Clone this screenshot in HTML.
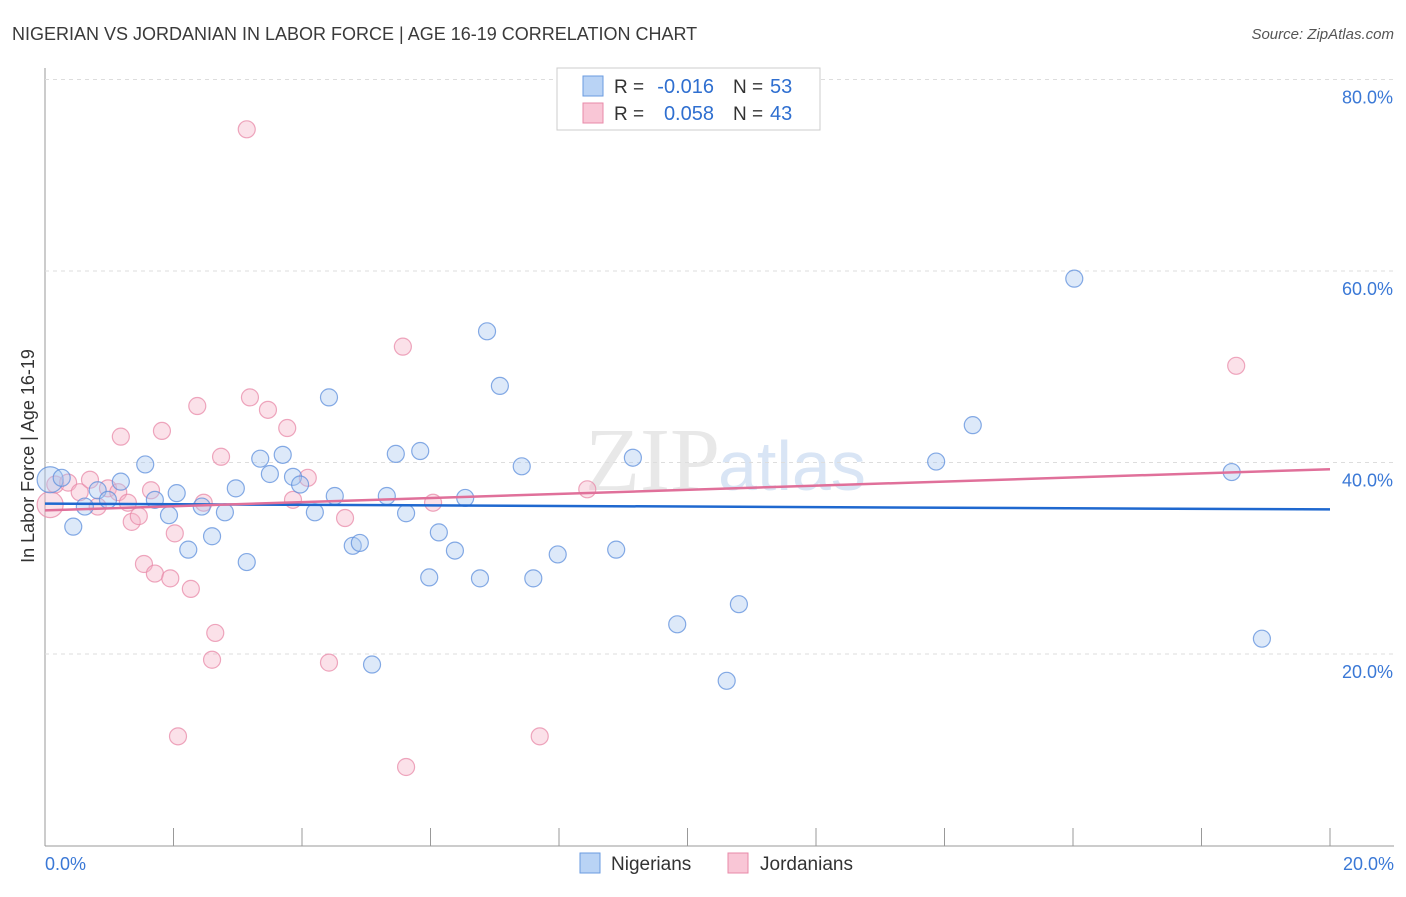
<!DOCTYPE html>
<html><head><meta charset="utf-8"><style>
body{margin:0;background:#fff;font-family:"Liberation Sans",sans-serif;}
</style></head><body>
<svg id="c" width="1406" height="892" xmlns="http://www.w3.org/2000/svg">
<text x="12" y="40" font-size="18" fill="#3a3a3a">NIGERIAN VS JORDANIAN IN LABOR FORCE | AGE 16-19 CORRELATION CHART</text>
<text x="1394" y="39" font-size="15" fill="#555" text-anchor="end" font-style="italic">Source: ZipAtlas.com</text>
<text x="720" y="490" font-size="90" fill="#e8e8e8" text-anchor="end" font-family="Liberation Serif">ZIP</text>
<text x="718" y="490" font-size="70" fill="#d9e5f5">atlas</text>
<g id="grid"></g><g id="pts"></g><g id="lines"></g>
<text x="34" y="456" font-size="18" fill="#333" text-anchor="middle" transform="rotate(-90 34 456)">In Labor Force | Age 16-19</text>
<text x="45" y="870" font-size="18" fill="#3a78d6">0.0%</text>
<text x="1394" y="870" font-size="18" fill="#3a78d6" text-anchor="end">20.0%</text>
<g>
<rect x="557" y="68" width="263" height="62" fill="#fff" stroke="#ccc"/>
<rect x="583" y="76" width="20" height="20" fill="#b9d3f5" stroke="#6a9be0"/>
<rect x="583" y="103" width="20" height="20" fill="#f9c6d6" stroke="#e88aa8"/>
<text x="614" y="93" font-size="19" fill="#333">R =</text>
<text x="714" y="93" font-size="20" fill="#2f6fd0" text-anchor="end">-0.016</text>
<text x="733" y="93" font-size="19" fill="#333">N =</text>
<text x="770" y="93" font-size="20" fill="#2f6fd0">53</text>
<text x="614" y="120" font-size="19" fill="#333">R =</text>
<text x="714" y="120" font-size="20" fill="#2f6fd0" text-anchor="end">0.058</text>
<text x="733" y="120" font-size="19" fill="#333">N =</text>
<text x="770" y="120" font-size="20" fill="#2f6fd0">43</text>
</g>
<g>
<rect x="580" y="853" width="20" height="20" fill="#b9d3f5" stroke="#6a9be0"/>
<text x="611" y="870" font-size="19" fill="#333">Nigerians</text>
<rect x="728" y="853" width="20" height="20" fill="#f9c6d6" stroke="#e88aa8"/>
<text x="760" y="870" font-size="19" fill="#333">Jordanians</text>
</g>
</svg>
<script>
const yTicks=[20,40,60,80];
const yTickLabels=["20.0%","40.0%","60.0%","80.0%"];
const nigX=[0.08,0.26,0.44,0.62,0.82,0.98,1.18,1.56,1.71,1.93,2.05,2.23,2.44,2.60,2.80,2.97,3.14,3.35,3.50,3.70,3.86,3.97,4.20,4.42,4.51,4.79,4.90,5.09,5.32,5.46,5.62,5.84,5.98,6.13,6.38,6.54,6.77,6.88,7.08,7.42,7.60,7.98,8.89,9.15,9.84,10.61,10.80,13.87,14.44,16.02,18.47,18.94];
const nigY=[38.2,38.4,33.3,35.4,37.1,36.1,38.0,39.8,36.1,34.5,36.8,30.9,35.4,32.3,34.8,37.3,29.6,40.4,38.8,40.8,38.5,37.7,34.8,46.8,36.5,31.3,31.6,18.9,36.5,40.9,34.7,41.2,28.0,32.7,30.8,36.3,27.9,53.7,48.0,39.6,27.9,30.4,30.9,40.5,23.1,17.2,25.2,40.1,43.9,59.2,39.0,21.6];
const jorX=[0.08,0.16,0.36,0.54,0.70,0.82,0.98,1.14,1.18,1.29,1.35,1.46,1.54,1.65,1.71,1.82,1.95,2.02,2.07,2.27,2.37,2.47,2.60,2.65,2.74,3.14,3.19,3.47,3.77,3.86,4.09,4.42,4.67,5.57,5.62,6.04,7.70,8.44,18.54];
const jorY=[35.6,37.7,37.9,36.9,38.2,35.4,37.3,36.9,42.7,35.8,33.8,34.4,29.4,37.1,28.4,43.3,27.9,32.6,11.4,26.8,45.9,35.8,19.4,22.2,40.6,74.8,46.8,45.5,43.6,36.1,38.4,19.1,34.2,52.1,8.2,35.8,11.4,37.2,50.1];
const nigTrend=[35.7,35.1];
const jorTrend=[35.0,39.3];
const X=v=>45+v/20*1285, Y=v=>845.5-v/20*191.5;
const NS="http://www.w3.org/2000/svg";
function mk(t,a,p){const e=document.createElementNS(NS,t);for(const k in a)e.setAttribute(k,a[k]);p.appendChild(e);return e;}
const g=document.getElementById('grid');
let ax=mk('line',{x1:45,y1:68,x2:45,y2:846,stroke:'#999'},g);

let bx=mk('line',{x1:45,y1:846,x2:1394,y2:846,stroke:'#999'},g);

for(let i=1;i<=10;i++){const t=mk('line',{x1:45+i*128.5,y1:828,x2:45+i*128.5,y2:846,stroke:'#999'},g);
}
yTicks.forEach((v,i)=>{const l=mk('line',{x1:45,x2:1394,y1:Y(v),y2:Y(v),stroke:'#ddd','stroke-dasharray':'4 4'},g);

const t=mk('text',{x:1393,y:Y(v)+24,'font-size':18,fill:'#3a78d6','text-anchor':'end'},g);t.textContent=yTickLabels[i];
});
const p=document.getElementById('pts');
function dots(xs,ys,f,s,n){xs.forEach((x,i)=>{const c=mk('circle',{cx:X(x),cy:Y(ys[i]),r:i==0?13:8.5,fill:f,'fill-opacity':0.4,stroke:s,'stroke-opacity':0.75,'stroke-width':1.2},p);
});}
dots(jorX,jorY,'#f5b3c8','#e88aa8','jordanian-point');
dots(nigX,nigY,'#a9c8f0','#5d8fdc','nigerian-point');
const L=document.getElementById('lines');
let a=mk('line',{x1:X(0),x2:X(20),y1:Y(nigTrend[0]),y2:Y(nigTrend[1]),stroke:'#1f68cf','stroke-width':2.5},L);

let b=mk('line',{x1:X(0),x2:X(20),y1:Y(jorTrend[0]),y2:Y(jorTrend[1]),stroke:'#e0709a','stroke-width':2.5},L);

</script>
</body></html>
